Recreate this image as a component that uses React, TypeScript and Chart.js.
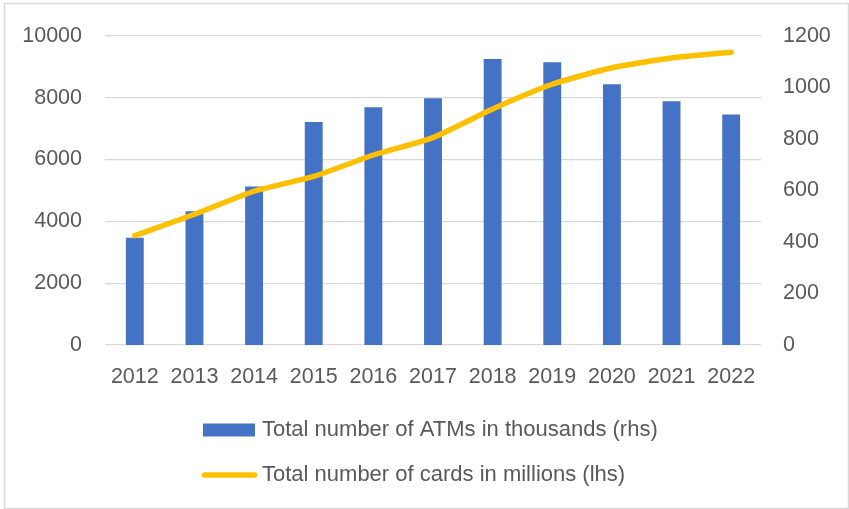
import React, { useEffect, useRef } from "react";
import { Chart, registerables } from "chart.js";

Chart.register(...registerables);

const years = ["2012", "2013", "2014", "2015", "2016", "2017", "2018", "2019", "2020", "2021", "2022"];
const atmsThousands = [416, 519, 615, 866, 923, 958, 1110, 1098, 1012, 946, 895];
const cardsMillions = [3537, 4230, 4974, 5454, 6147, 6710, 7636, 8435, 8968, 9287, 9470];
const atmLabel = "Total number of ATMs in thousands (rhs)";
const cardLabel = "Total number of cards in millions (lhs)";

const FONT = "'Liberation Sans', Arial, sans-serif";
const FONT_SIZE = 21.5;
const LEGEND_SIZE = 22;
const TEXT = "#595959";
const BLUE = "#4472C4";
const GOLD = "#FFC000";

const framePlugin = {
  id: "frame",
  beforeDraw(chart: any) {
    const { ctx, width, height } = chart;
    ctx.save();
    ctx.fillStyle = "#ffffff";
    ctx.fillRect(0, 0, width, height);
    ctx.strokeStyle = "#D9D9D9";
    ctx.lineWidth = 1.5;
    ctx.strokeRect(4.5, 3.5, width - 5, height - 4);
    ctx.restore();
  },
};

const legendPlugin = {
  id: "customLegend",
  afterDraw(chart: any) {
    const { ctx } = chart;
    const ds = chart.data.datasets;
    const bar = ds.find((d: any) => d.type === "bar");
    const line = ds.find((d: any) => d.type === "line");
    const x0 = 203;
    const textX = 262;
    const row1 = 430;
    const row2 = 475;
    ctx.save();
    ctx.font = `${LEGEND_SIZE}px ${FONT}`;
    ctx.textBaseline = "middle";
    ctx.textAlign = "left";
    ctx.fillStyle = bar.backgroundColor;
    ctx.fillRect(x0, row1 - 6.5, 52, 13);
    ctx.fillStyle = TEXT;
    ctx.fillText(bar.label, textX, row1);
    ctx.strokeStyle = line.borderColor;
    ctx.lineWidth = 5.5;
    ctx.lineCap = "round";
    ctx.beginPath();
    ctx.moveTo(x0 + 1.5, row2);
    ctx.lineTo(x0 + 51.5, row2);
    ctx.stroke();
    ctx.fillText(line.label, textX, row2);
    ctx.restore();
  },
};

const plain = (v: any) => String(v);

export default function App() {
  const ref = useRef<HTMLCanvasElement | null>(null);

  useEffect(() => {
    if (!ref.current) return;
    const chart = new Chart(ref.current, {
      type: "bar",
      data: {
        labels: years,
        datasets: [
          {
            type: "line",
            label: cardLabel,
            data: cardsMillions,
            yAxisID: "yL",
            borderColor: GOLD,
            backgroundColor: GOLD,
            borderWidth: 5.5,
            pointRadius: 0,
            tension: 0.2,
            borderCapStyle: "round",
            borderJoinStyle: "round",
            order: 0,
          } as any,
          {
            type: "bar",
            label: atmLabel,
            data: atmsThousands,
            yAxisID: "yR",
            backgroundColor: BLUE,
            borderWidth: 0,
            barPercentage: 0.3,
            categoryPercentage: 1,
            order: 1,
          } as any,
        ],
      },
      options: {
        responsive: false,
        animation: false,
        layout: { padding: { left: 0, right: 0, top: 32, bottom: 114 } },
        plugins: {
          legend: { display: false },
          tooltip: { enabled: false },
        },
        scales: {
          x: {
            grid: { display: false, drawTicks: false },
            border: { display: false },
            ticks: {
              color: TEXT,
              font: { family: FONT, size: FONT_SIZE },
              padding: 19,
              maxRotation: 0,
              autoSkip: false,
            },
            afterFit: (s: any) => {
              s.height = 50;
            },
          },
          yL: {
            position: "left",
            min: 0,
            max: 10000,
            grid: { color: "#D9D9D9", lineWidth: 1.3, drawTicks: false },
            border: { display: false },
            ticks: {
              stepSize: 2000,
              color: TEXT,
              font: { family: FONT, size: FONT_SIZE },
              padding: 23,
              callback: plain,
            },
            afterFit: (s: any) => {
              s.width = 105;
            },
          },
          yR: {
            position: "right",
            min: 0,
            max: 1200,
            grid: { display: false, drawTicks: false },
            border: { display: false },
            ticks: {
              stepSize: 200,
              color: TEXT,
              font: { family: FONT, size: FONT_SIZE },
              padding: 22,
              callback: plain,
            },
            afterFit: (s: any) => {
              s.width = 88;
            },
          },
        },
      },
      plugins: [framePlugin, legendPlugin],
    });
    return () => chart.destroy();
  }, []);

  return (
    <div style={{ position: "absolute", left: 0, top: 0, width: 849, height: 509 }}>
      <canvas ref={ref} width={849} height={509} style={{ display: "block" }} />
    </div>
  );
}
